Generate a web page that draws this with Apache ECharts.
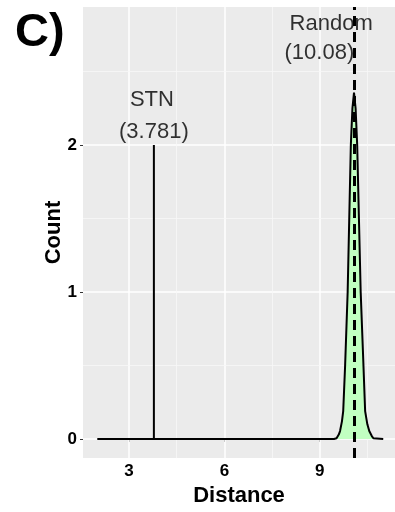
<!DOCTYPE html>
<html>
<head>
<meta charset="utf-8">
<style>
  html, body { margin: 0; padding: 0; background: #fff; }
  #chart { width: 395px; height: 512px; }
</style>
<script src="https://cdn.jsdelivr.net/npm/echarts@6/dist/echarts.min.js"></script>
</head>
<body>
<div id="chart"></div>
<script>
// density of random distances
const densityX = [2.0, 9.45, 9.53, 9.6, 9.64, 9.7, 9.74, 9.8, 9.88, 9.98, 10.03, 10.08, 10.13, 10.18, 10.29, 10.36, 10.43, 10.5, 10.56, 10.64, 10.69, 10.75, 11.0];
const densityY = [0, 0, 0.005, 0.03, 0.054, 0.12, 0.19, 0.5, 1.0, 2.0, 2.25, 2.357, 2.25, 2.0, 1.0, 0.6, 0.19, 0.1, 0.054, 0.02, 0.005, 0, 0];

const stnValue = 3.781;
const stnCount = 2;
const randomValue = 10.08;

const xTicks = [3, 6, 9];
const yTicks = [0, 1, 2];
const xMinor = [4.5, 7.5, 10.5];
const yMinor = [0.5, 1.5, 2.5];

const font = 'Liberation Sans, Arial, sans-serif';
const chart = echarts.init(document.getElementById('chart'));

const major = { color: '#ffffff', width: 1.5, type: 'solid' };
const minor = { color: '#f7f7f7', width: 0.8, type: 'solid' };
const gridLines = [];
xTicks.forEach(v => gridLines.push({ xAxis: v, lineStyle: major }));
yTicks.forEach(v => gridLines.push({ yAxis: v, lineStyle: major }));
xMinor.forEach(v => gridLines.push({ xAxis: v, lineStyle: minor }));
yMinor.forEach(v => gridLines.push({ yAxis: v, lineStyle: minor }));

chart.setOption({
  animation: false,
  textStyle: { fontFamily: font },
  grid: {
    left: 83, right: 0, top: 7, bottom: 52,
    show: true, backgroundColor: '#EBEBEB', borderWidth: 0
  },
  xAxis: {
    type: 'value', min: 1.55, max: 11.37,
    name: 'Distance', nameLocation: 'middle', nameGap: 22,
    nameTextStyle: { fontSize: 22, fontWeight: 'bold', color: '#000', fontFamily: font },
    axisLine: { show: false },
    axisTick: { show: true, customValues: xTicks, length: 3, lineStyle: { color: '#333' } },
    axisLabel: { customValues: xTicks, fontSize: 17, fontWeight: 'bold', color: '#000', margin: 5, fontFamily: font },
    splitLine: { show: false }
  },
  yAxis: {
    type: 'value', min: -0.13, max: 2.94,
    name: 'Count', nameLocation: 'middle', nameGap: 18, nameMoveOverlap: false,
    nameTextStyle: { fontSize: 22, fontWeight: 'bold', color: '#000', fontFamily: font },
    axisLine: { show: false },
    axisTick: { show: true, customValues: yTicks, length: 3, lineStyle: { color: '#333' } },
    axisLabel: { customValues: yTicks, fontSize: 17, fontWeight: 'bold', color: '#000', margin: 6, fontFamily: font },
    splitLine: { show: false }
  },
  graphic: [{
    type: 'text', left: 15, top: 10,
    style: { text: 'C)', font: 'bold 47px ' + font, fill: '#000' }
  }],
  series: [
    {
      // background grid
      type: 'line', data: [], silent: true, z: 1,
      markLine: { silent: true, z: 1, symbol: 'none', label: { show: false }, data: gridLines }
    },
    {
      type: 'line', silent: true, symbol: 'none', z: 3,
      data: densityX.map((x, i) => [x, densityY[i]]),
      lineStyle: { color: '#000', width: 2 },
      areaStyle: { color: '#C1FFC1', opacity: 1 }
    },
    {
      type: 'line', silent: true, symbol: 'none', z: 3,
      data: [[stnValue, 0], [stnValue, stnCount]],
      lineStyle: { color: '#000', width: 2 }
    },
    {
      type: 'scatter', silent: true, symbolSize: 0, z: 4,
      data: [
        { name: 'STN', value: [3.72, 2.31] },
        { name: '(' + stnValue + ')', value: [3.78, 2.09] },
        { name: 'Random', value: [9.36, 2.825] },
        { name: '(' + randomValue.toFixed(2) + ')', value: [8.99, 2.63] }
      ],
      label: {
        show: true, position: 'inside', formatter: p => p.name,
        fontSize: 22, color: '#000', fontFamily: font, align: 'center', verticalAlign: 'middle',
        textBorderWidth: 0
      }
    },
    {
      // random mean
      type: 'line', data: [], silent: true, z: 6,
      markLine: {
        silent: true, z: 10, symbol: 'none', label: { show: false },
        lineStyle: { color: '#000', width: 3, type: [10, 6] },
        data: [{ xAxis: randomValue }]
      }
    }
  ]
});
</script>
</body>
</html>
